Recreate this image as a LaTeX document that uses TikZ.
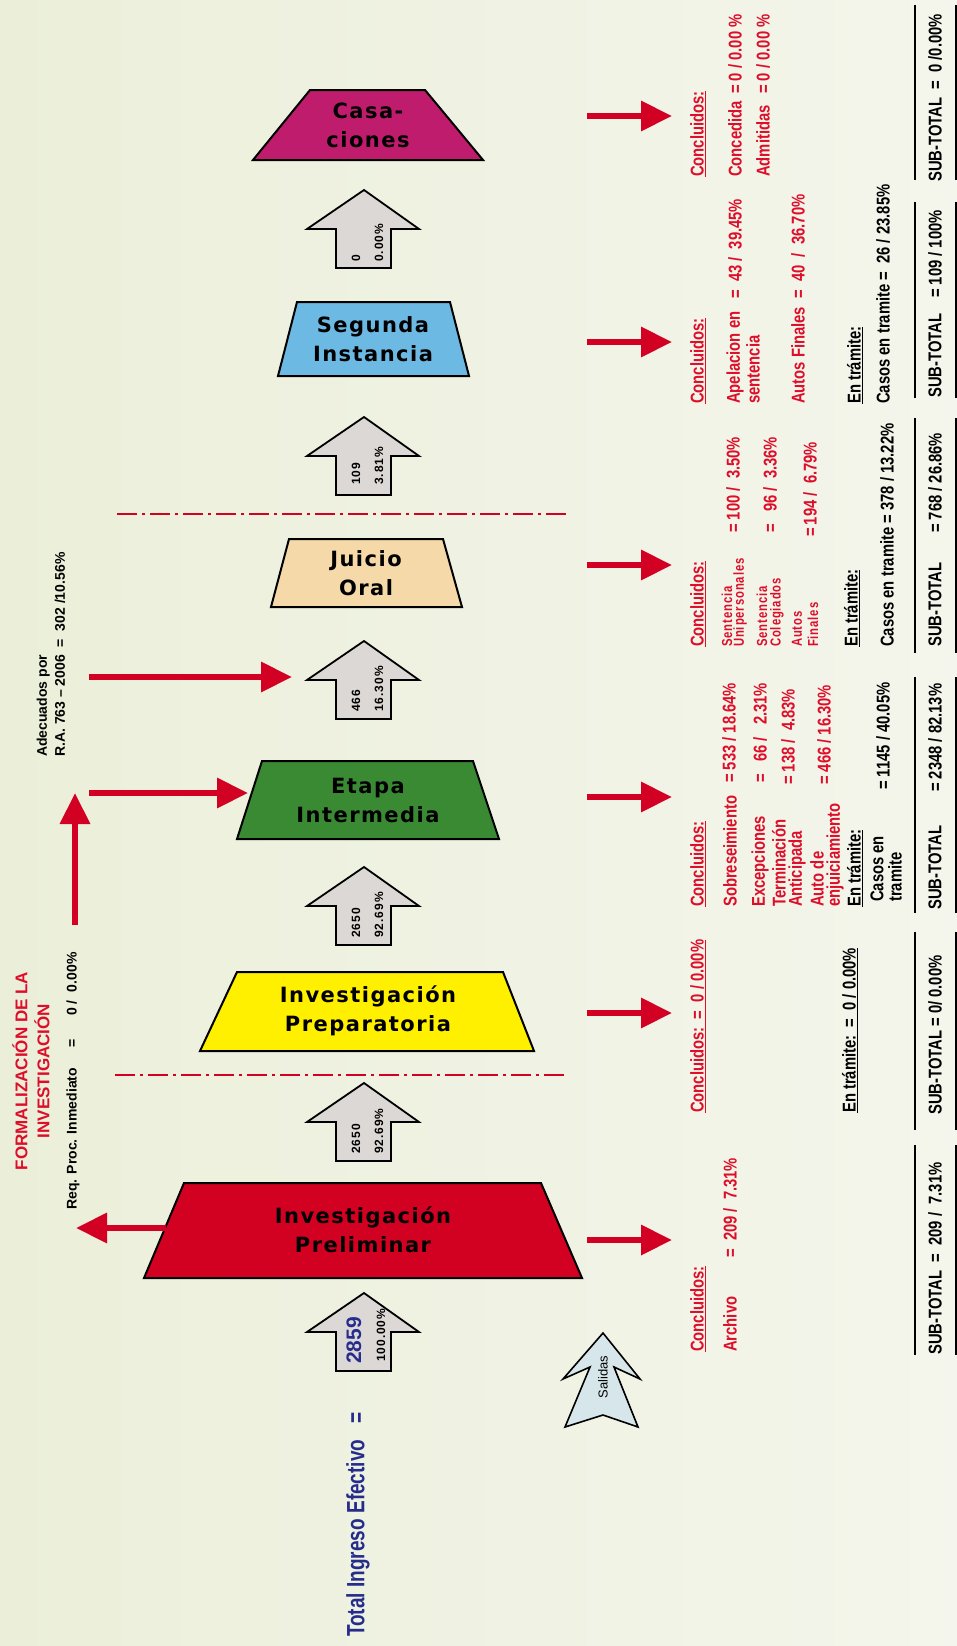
\documentclass[tikz,border=0pt]{standalone}
\usepackage{fontspec}
\setmainfont{Liberation Sans}
\newfontfamily\stagefont[LetterSpace=7]{DejaVu Sans}
\newfontfamily\sidefont[FakeStretch=0.8]{Liberation Sans}
\newfontfamily\smallsfont[LetterSpace=6,FakeStretch=0.78]{Liberation Sans}
\newfontfamily\arrfont[LetterSpace=8]{Liberation Sans}
\newfontfamily\totfont[FakeStretch=0.76]{Liberation Sans}
\usetikzlibrary{arrows.meta}
\definecolor{myred}{RGB}{210,0,34}
\definecolor{txtred}{RGB}{222,14,42}
\definecolor{txtblue}{RGB}{38,44,140}
\definecolor{cMag}{RGB}{192,28,110}
\definecolor{cBlue}{RGB}{108,185,228}
\definecolor{cPeach}{RGB}{245,217,168}
\definecolor{cGreen}{RGB}{58,138,52}
\definecolor{cYellow}{RGB}{255,240,0}
\definecolor{cRed}{RGB}{210,0,33}
\definecolor{arrgray}{RGB}{220,216,214}
\definecolor{salblue}{RGB}{214,230,234}
\definecolor{bgA}{RGB}{230,235,206}
\definecolor{bgB}{RGB}{236,240,219}
\definecolor{bgC}{RGB}{242,244,232}
\definecolor{bgD}{RGB}{249,249,245}
\pgfdeclarehorizontalshading{bgshade}{100bp}{color(0bp)=(bgA); color(30bp)=(bgB); color(65bp)=(bgC); color(100bp)=(bgD)}
\newcommand{\myul}[1]{\leavevmode\setbox0=\hbox{#1}\rlap{\rule[-2.4pt]{\wd0}{1.4pt}}\box0}
\tikzset{
  stagebox/.style={draw=black, line width=2pt, line join=miter},
  stagelabel/.style={font=\stagefont\bfseries\fontsize{21}{29}\selectfont, align=center, inner sep=0pt},
  blockarrow/.style={draw=black, line width=1.8pt, fill=arrgray, line join=miter},
  uparrow/.pic={\path[blockarrow] (0,0) -- (55,39) -- (27,39) -- (27,78) -- (-28,78) -- (-28,39) -- (-57,39) -- cycle;},
  side/.style={rotate=90, anchor=west, inner sep=0pt, font=\sidefont\bfseries\fontsize{18.5}{20}\selectfont},
  sidered/.style={side, text=txtred},
  smalltxt/.style={rotate=90, anchor=west, inner sep=0pt, text=txtred, font=\smallsfont\bfseries\fontsize{14.5}{15}\selectfont},
  arrtext/.style={rotate=90, anchor=west, inner sep=0pt, font=\arrfont\bfseries\fontsize{12}{13}\selectfont},
  redarrow/.style={draw=myred, line width=6.5pt, -{Triangle[length=31pt,width=29pt]}},
  dashdot/.style={draw=myred, line width=2pt, dash pattern=on 20pt off 5pt on 3pt off 5pt},
  sepline/.style={draw=black, line width=2pt},
}
\begin{document}
\begin{tikzpicture}[x=1pt,y=-1pt]
\useasboundingbox (0,0) rectangle (957,1646);
\shade[shading=bgshade] (0,0) rectangle (957,1646);

% dash-dot separators
\coordinate (dd1a) at (117,514); \coordinate (dd1b) at (567,514);
\coordinate (dd2a) at (115,1075); \coordinate (dd2b) at (567,1075);
\draw[dashdot] (dd1a) -- (dd1b);
\draw[dashdot] (dd2a) -- (dd2b);

% stages
\filldraw[stagebox, fill=cMag] (310,90) -- (425,90) -- (483,160) -- (253,160) -- cycle;
\node[stagelabel] (cas) at (368,125) {Casa-\\ciones};
\filldraw[stagebox, fill=cBlue] (297,302) -- (450,302) -- (469,376) -- (278,376) -- cycle;
\node[stagelabel] (seg) at (373,339) {Segunda\\Instancia};
\filldraw[stagebox, fill=cPeach] (289,539) -- (443,539) -- (462,607) -- (271,607) -- cycle;
\node[stagelabel] (jui) at (366,573) {Juicio\\Oral};
\filldraw[stagebox, fill=cGreen] (262,761) -- (473,761) -- (499,839) -- (237,839) -- cycle;
\node[stagelabel] (eta) at (368,800) {Etapa\\Intermedia};
\filldraw[stagebox, fill=cYellow] (237,972) -- (503,972) -- (534,1051) -- (200,1051) -- cycle;
\node[stagelabel] (prep) at (368,1011) {Investigación\\Preparatoria};
\filldraw[stagebox, fill=cRed] (184,1183) -- (541,1183) -- (582,1278) -- (144,1278) -- cycle;
\node[stagelabel] (prel) at (363,1230) {Investigación\\Preliminar};

% block arrows
\pic at (364,190) {uparrow};
\pic at (364,417) {uparrow};
\pic at (364,641) {uparrow};
\pic at (364,867) {uparrow};
\pic at (364,1083) {uparrow};
\pic at (364,1293) {uparrow};
\node[arrtext] (a0n) at (356,262) {0};
\node[arrtext] (a0p) at (379,262) {0.00\%};
\node[arrtext] (a1n) at (356,485) {109};
\node[arrtext] (a1p) at (379,485) {3.81\%};
\node[arrtext] (a2n) at (356,712) {466};
\node[arrtext] (a2p) at (379,712) {16.30\%};
\node[arrtext] (a3n) at (356,938) {2650};
\node[arrtext] (a3p) at (379,938) {92.69\%};
\node[arrtext] (a4n) at (356,1154) {2650};
\node[arrtext] (a4p) at (379,1154) {92.69\%};
\node[rotate=90, anchor=west, inner sep=0pt, text=txtblue, font=\bfseries\fontsize{21}{22}\selectfont] (a5n) at (354,1364) {2859};
\node[arrtext] (a5p) at (381,1362) {100.00\%};

% salidas arrow
\filldraw[draw=black, line width=1.6pt, fill=salblue, line join=miter]
  (603,1333) -- (640,1379) -- (614,1367) -- (638,1427) -- (603,1415) -- (565,1427) -- (590,1367) -- (563,1379) -- cycle;
\node[rotate=90, inner sep=0pt, font=\fontsize{13}{14}\selectfont] (sal) at (603,1377) {Salidas};

% red arrows to the right
\foreach \yy/\nm in {116/r6,342/r5,565/r4,797/r3,1013/r2,1240/r1}{
  \coordinate (\nm s) at (587,\yy);
  \coordinate (\nm e) at (672,\yy);
  \draw[redarrow] (\nm s) -- (\nm e);
}
% left arrows
\coordinate (lfs) at (166,1228); \coordinate (lfe) at (76,1228);
\draw[redarrow] (lfs) -- (lfe);
\coordinate (vs) at (75,925); \coordinate (ve) at (75,793);
\draw[redarrow] (vs) -- (ve);
\coordinate (hes) at (89,793); \coordinate (hee) at (248,793);
\draw[redarrow] (hes) -- (hee);
\coordinate (hjs) at (89,677); \coordinate (hje) at (292,677);
\draw[redarrow] (hjs) -- (hje);

% left texts
\node[rotate=90, inner sep=0pt, align=center, text=txtred, font=\bfseries\fontsize{17}{22}\selectfont] (form) at (31,1071) {FORMALIZACIÓN DE LA\\INVESTIGACIÓN};
\node[rotate=90, anchor=west, inner sep=0pt, font=\bfseries\fontsize{14}{15}\selectfont] (req) at (73,1210) {Req. Proc. Inmediato\hspace{20pt}=\hspace{24pt}0 /\hspace{8pt}0.00\%};
\node[rotate=90, anchor=west, inner sep=0pt, align=left, font=\bfseries\fontsize{14}{18}\selectfont] (adec) at (51,757) {Adecuados por\\R.A. 763 -- 2006\ \ =\ \ 302 /10.56\%};
\node[rotate=90, anchor=west, inner sep=0pt, text=txtblue, font=\totfont\bfseries\fontsize{25}{26}\selectfont] (tot) at (358,1637) {Total Ingreso Efectivo\hspace{16pt}=};

% separator lines right
\foreach \ya/\yb/\nm in {5/180/s6,202/398/s5,418/653/s4,677/913/s3,932/1130/s2,1145/1355/s1}{
  \coordinate (\nm a) at (915,\ya); \coordinate (\nm b) at (915,\yb);
  \coordinate (\nm c) at (956,\ya); \coordinate (\nm d) at (956,\yb);
  \draw[sepline] (\nm a) -- (\nm b);
  \draw[sepline] (\nm c) -- (\nm d);
}

% Section 1: Investigacion Preliminar
\node[sidered] (c1) at (698,1352) {\myul{Concluidos:}};
\node[sidered] (c1a) at (730,1352) {Archivo};
\node[sidered] (c1v) at (730,1258) {=\ \ 209 /\ \ 7.31\%};
\node[side] (st1) at (935,1355) {SUB-TOTAL\ \ =\ \ 209\ /\ \ 7.31\%};

% Section 2: Investigacion Preparatoria
\node[sidered] (c2) at (698,1113) {\myul{Concluidos:\ \ =\ \ 0 / 0.00\%}};
\node[side] (t2) at (850,1113) {\myul{En trámite:\ \ =\ \ 0 / 0.00\%}};
\node[side] (st2) at (935,1115) {SUB-TOTAL\ =\ 0/ 0.00\%};

% Section 3: Etapa Intermedia
\node[sidered] (c3) at (698,907) {\myul{Concluidos:}};
\node[sidered] (c3a) at (730,907) {Sobreseimiento};
\node[sidered] (c3av) at (729,783) {=\ 533 /\ 18.64\%};
\node[sidered] (c3b) at (760,907) {Excepciones};
\node[sidered] (c3bv) at (760,783) {=\ \ \ 66 /\ \ \ 2.31\%};
\node[sidered] (c3c) at (779,907) {Terminación};
\node[sidered] (c3c2) at (797,907) {Anticipada};
\node[sidered] (c3cv) at (788,785) {=\ 138 /\ \ 4.83\%};
\node[sidered] (c3d) at (817,907) {Auto de};
\node[sidered] (c3d2) at (835,907) {enjuiciamiento};
\node[sidered] (c3dv) at (824,785) {=\ 466 / 16.30\%};
\node[side] (t3) at (855,907) {\myul{En trámite:}};
\node[side] (t3a) at (877,902) {Casos en};
\node[side] (t3b) at (895,902) {tramite};
\node[side] (t3v) at (883,790) {=\ 1145 / 40.05\%};
\node[side] (st3) at (935,910) {SUB-TOTAL};
\node[side] (st3v) at (935,792) {=\ 2348 / 82.13\%};

% Section 4: Juicio Oral
\node[sidered] (c4) at (698,647) {\myul{Concluidos:}};
\node[smalltxt] (c4a) at (727,647) {Sentencia};
\node[smalltxt] (c4a2) at (740,647) {Unipersonales};
\node[sidered] (c4av) at (733,533) {=\ 100 /\ \ 3.50\%};
\node[smalltxt] (c4b) at (762,647) {Sentencia};
\node[smalltxt] (c4b2) at (777,647) {Colegiados};
\node[sidered] (c4bv) at (770,533) {=\ \ \ 96 /\ \ 3.36\%};
\node[smalltxt] (c4c) at (797,647) {Autos};
\node[smalltxt] (c4c2) at (813,647) {Finales};
\node[sidered] (c4cv) at (810,537) {=\,194 /\ \ 6.79\%};
\node[side] (t4) at (852,647) {\myul{En trámite:}};
\node[side] (t4a) at (887,647) {Casos en tramite = 378 / 13.22\%};
\node[side] (st4) at (935,647) {SUB-TOTAL};
\node[side] (st4v) at (935,533) {=\ 768 / 26.86\%};

% Section 5: Segunda Instancia
\node[sidered] (c5) at (698,404) {\myul{Concluidos:}};
\node[sidered] (c5a) at (735,404) {Apelacion en};
\node[sidered] (c5a2) at (753,404) {sentencia};
\node[sidered] (c5av) at (735,299) {=\ \ 43 /\ \ 39.45\%};
\node[sidered] (c5b) at (798,404) {Autos Finales\ \ =\ \ 40\ \ /\ \ 36.70\%};
\node[side] (t5) at (855,404) {\myul{En trámite:}};
\node[side] (t5a) at (883,404) {Casos en tramite =\ \ 26 / 23.85\%};
\node[side] (st5) at (935,398) {SUB-TOTAL};
\node[side] (st5v) at (935,298) {=\ 109 / 100\%};

% Section 6: Casaciones
\node[sidered] (c6) at (698,177) {\myul{Concluidos:}};
\node[sidered] (c6a) at (735,177) {Concedida};
\node[sidered] (c6av) at (735,94) {=\ 0 / 0.00 \%};
\node[sidered] (c6b) at (763,177) {Admitidas};
\node[sidered] (c6bv) at (763,94) {=\ 0 / 0.00 \%};
\node[side] (st6) at (935,182) {SUB-TOTAL\ \ =\ \ 0 /0.00\%};
\end{tikzpicture}
\end{document}
